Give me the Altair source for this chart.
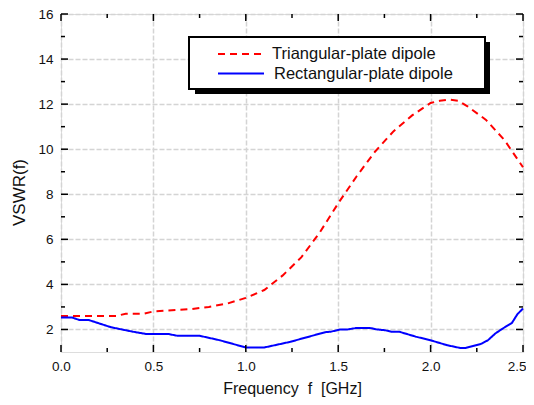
import altair as alt
import pandas as pd

# ---- data ----
series_names = ["Triangular-plate dipole", "Rectangular-plate dipole"]

f_tri = [0.0, 0.1, 0.2, 0.3, 0.35, 0.45, 0.5, 0.6, 0.7, 0.8, 0.9, 1.0, 1.1, 1.2,
         1.3, 1.4, 1.5, 1.6, 1.7, 1.8, 1.9, 2.0, 2.05, 2.1, 2.15, 2.2, 2.3, 2.4, 2.5]
v_tri = [2.6, 2.6, 2.6, 2.6, 2.7, 2.7, 2.8, 2.85, 2.9, 3.0, 3.15, 3.4, 3.75, 4.4,
         5.2, 6.3, 7.6, 8.8, 9.9, 10.8, 11.5, 12.05, 12.15, 12.2, 12.15, 11.9, 11.3, 10.4, 9.2]

f_rect = [0.0, 0.06, 0.1, 0.15, 0.27, 0.39, 0.46, 0.58, 0.63, 0.75, 0.86, 1.0, 1.1,
          1.24, 1.35, 1.43, 1.46, 1.51, 1.55, 1.6, 1.67, 1.71, 1.75, 1.79, 1.83, 1.92,
          2.0, 2.09, 2.16, 2.19, 2.27, 2.31, 2.35, 2.39, 2.44, 2.47, 2.5]
v_rect = [2.53, 2.53, 2.42, 2.42, 2.1, 1.9, 1.8, 1.8, 1.72, 1.72, 1.52, 1.2, 1.2,
          1.45, 1.7, 1.88, 1.9, 2.0, 2.0, 2.07, 2.07, 2.0, 1.97, 1.9, 1.9, 1.68,
          1.52, 1.3, 1.18, 1.18, 1.35, 1.52, 1.82, 2.04, 2.29, 2.68, 2.93]

x_major = [0.0, 0.5, 1.0, 1.5, 2.0, 2.5]
x_minor = [0.25, 0.75, 1.25, 1.75, 2.25]
y_major = [2, 4, 6, 8, 10, 12, 14, 16]
y_minor = [3, 5, 7, 9, 11, 13, 15]

X_DOMAIN = [0, 2.5]
Y_DOMAIN = [1, 16]

W, H = 462, 338
FONT = "Liberation Sans"

df = pd.concat([
    pd.DataFrame({"f": f_tri, "v": v_tri, "series": series_names[0]}),
    pd.DataFrame({"f": f_rect, "v": v_rect, "series": series_names[1]}),
])

xs = alt.Scale(domain=X_DOMAIN, nice=False, zero=False)
ys = alt.Scale(domain=Y_DOMAIN, nice=False, zero=False)

last_x = f"datum.value >= {X_DOMAIN[1]}"
x_axis = alt.Axis(values=x_major, format=".1f", title="Frequency\u00a0 f\u00a0 [GHz]",
                  tickSize=0, domain=False, labelPadding=7, labelFontSize=13.5,
                  labelFlush=False, labelOverlap=False, labelBound=False,
                  labelAlign={"condition": {"test": last_x, "value": "right"}, "value": "center"},
                  labelOffset={"condition": {"test": last_x, "value": 3}, "value": 0},
                  labelFont=FONT, labelColor="#111", titleFont=FONT, titleFontSize=16,
                  titleFontWeight="normal", titleColor="#111", titleBaseline="alphabetic",
                  titleY=41, grid=True, gridDash=[5, 2], gridColor="#d4d4d4", gridWidth=1.5)
y_axis = alt.Axis(values=y_major, title="VSWR(f)", tickSize=0, domain=False,
                  labelPadding=8, labelFontSize=13.5, labelFont=FONT, labelColor="#111",
                  labelFlush=False, labelOverlap=False, labelBound=False,
                  titleFont=FONT, titleFontSize=17, titleFontWeight="normal",
                  titleColor="#111", titleX=-42, titleY=178, titleBaseline="middle",
                  grid=True, gridDash=[5, 2], gridColor="#d4d4d4", gridWidth=1.5)

lines = alt.Chart(df).mark_line(strokeWidth=2, interpolate="linear").encode(
    x=alt.X("f:Q", scale=xs, axis=x_axis),
    y=alt.Y("v:Q", scale=ys, axis=y_axis),
    color=alt.Color("series:N", scale=alt.Scale(domain=series_names,
                                                range=["#ff0000", "#0000ff"]), legend=None),
    strokeDash=alt.StrokeDash("series:N", scale=alt.Scale(domain=series_names,
                                                          range=[[7, 5], [1, 0]]), legend=None),
    detail="series:N",
)

def ticks_x(vals, length):
    d = pd.DataFrame({"t": vals})
    bottom = alt.Chart(d).mark_rule(color="black", strokeWidth=1.5).encode(
        x=alt.X("t:Q", scale=xs), y=alt.value(H), y2=alt.value(H - length))
    top = alt.Chart(d).mark_rule(color="black", strokeWidth=1.5).encode(
        x=alt.X("t:Q", scale=xs), y=alt.value(0), y2=alt.value(length))
    return [bottom, top]

def ticks_y(vals, length):
    d = pd.DataFrame({"t": vals})
    left = alt.Chart(d).mark_rule(color="black", strokeWidth=1.5).encode(
        y=alt.Y("t:Q", scale=ys), x=alt.value(0), x2=alt.value(length))
    right = alt.Chart(d).mark_rule(color="black", strokeWidth=1.5).encode(
        y=alt.Y("t:Q", scale=ys), x=alt.value(W), x2=alt.value(W - length))
    return [left, right]

tick_layers = ticks_x(x_major, 7) + ticks_x(x_minor, 4) + ticks_y(y_major, 7) + ticks_y(y_minor, 4)

one = alt.Data(values=[{}])
shadow = alt.Chart(one).mark_rect(fill="black").encode(
    x=alt.value(134), x2=alt.value(429), y=alt.value(28), y2=alt.value(80))
box = alt.Chart(one).mark_rect(fill="white", stroke="black", strokeWidth=2).encode(
    x=alt.value(128), x2=alt.value(424), y=alt.value(23), y2=alt.value(75))
leg_red = alt.Chart(one).mark_rule(color="#ff0000", strokeWidth=2, strokeDash=[7, 5]).encode(
    x=alt.value(157), x2=alt.value(202), y=alt.value(40))
leg_blue = alt.Chart(one).mark_rule(color="#0000ff", strokeWidth=2).encode(
    x=alt.value(157), x2=alt.value(203), y=alt.value(59.5))
leg_t1 = alt.Chart(one).mark_text(align="left", baseline="middle", font=FONT, fontSize=16.5,
                                  color="#111").encode(
    x=alt.value(211), y=alt.value(40), text=alt.value(series_names[0]))
leg_t2 = alt.Chart(one).mark_text(align="left", baseline="middle", font=FONT, fontSize=16.5,
                                  color="#111").encode(
    x=alt.value(213), y=alt.value(59.5), text=alt.value(series_names[1]))

chart = alt.layer(lines, *tick_layers, shadow, box, leg_red, leg_blue, leg_t1, leg_t2).properties(
    width=W, height=H,
    autosize=alt.AutoSizeParams(type="none"),
    padding={"left": 53, "top": 6, "right": 3, "bottom": 45},
).configure_view(stroke="black", strokeWidth=2).configure(background="white")

chart.save("out.html", embed_options={"renderer": "svg", "actions": False})
